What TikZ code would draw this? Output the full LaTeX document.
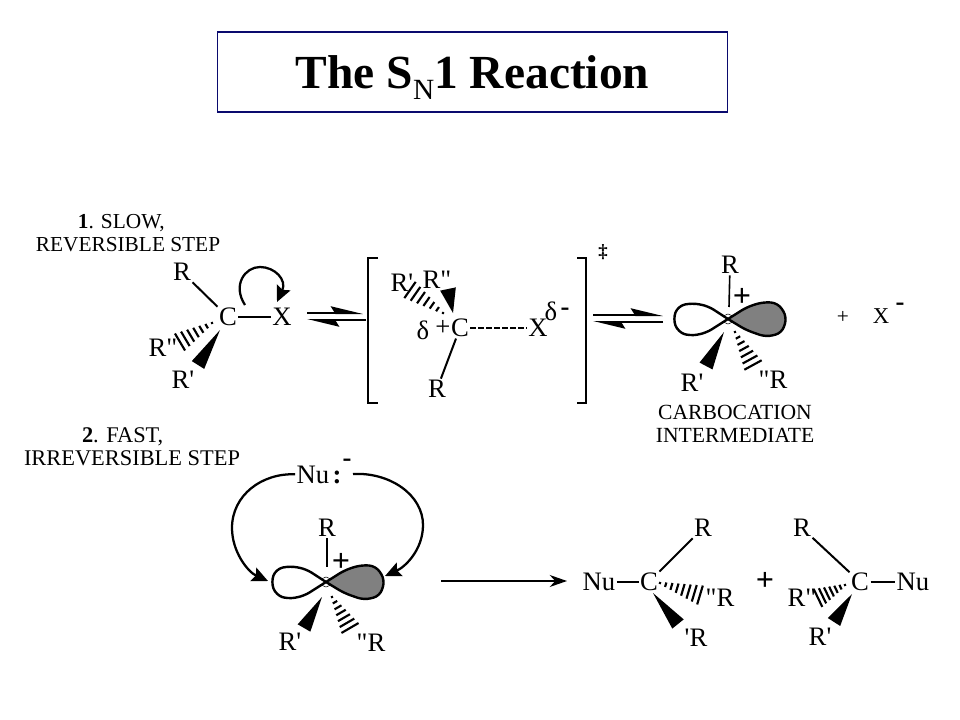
\documentclass[tikz,border=0pt]{standalone}
\usepackage{fontspec}
\setmainfont{Liberation Serif}[Ligatures=TeXOff]
\usetikzlibrary{calc,arrows.meta}
\definecolor{boxblue}{RGB}{10,10,110}
\tikzset{
  atom/.style={font=\fontsize{20}{24}\selectfont,inner sep=1pt},
  steplabel/.style={font=\fontsize{16.2}{17.5}\selectfont,align=center,inner sep=0pt},
  charge/.style={font=\fontsize{20}{24}\selectfont\bfseries,inner sep=0pt},
  bigplus/.style={font=\fontsize{24}{24}\selectfont\bfseries,inner sep=0pt},
  bond/.style={line width=1.5pt},
  bracket/.style={line width=1.6pt},
  halfarrow/.style={line width=1.5pt,-{Stealth[harpoon,length=21pt,width=10pt,inset=3pt]}},
  flowarrow/.style={line width=1.7pt,-{Stealth[length=12pt,width=11pt,inset=2pt]}}
}
\newcommand{\wedgebond}[3]{\fill (#1) -- ($(#2)!#3!90:(#1)$) -- ($(#2)!#3!-90:(#1)$) -- cycle;}
\newcommand{\hashbond}[3]{
  \coordinate (hashfar) at ($(#1)!1.5!(#2)$);
  \foreach \t [evaluate=\t as \f using \t/#3, evaluate=\t as \w using 0.8+\t*6.6/#3] in {0,...,#3}{
    \coordinate (hashmid) at ($(#1)!\f!(#2)$);
    \draw[line width=1.6pt] ($(hashmid)!\w pt!90:(hashfar)$) -- ($(hashmid)!\w pt!-90:(hashfar)$);
  }
}
\newcommand{\orbital}[1]{
  \begin{scope}[shift={(#1)}]
    \draw[line width=0.4pt] (0,0) circle (5);
    \draw[line width=1.8pt,rounded corners=5pt,fill=white] (0,0) -- (-20,-13) -- (-36,-16) -- (-50,-13) -- (-55,0) -- (-50,13) -- (-38,17) -- (-22,14) -- (0,0);
    \draw[line width=1.8pt,rounded corners=5pt,fill=black!50] (0,0) -- (19,-12) -- (35,-17) -- (50,-16) -- (59,-2) -- (54,14) -- (38,18) -- (18,11) -- (0,0);
  \end{scope}
}
\begin{document}
\begin{tikzpicture}[x=0.75pt,y=-0.75pt]
\useasboundingbox (0,0) rectangle (960,720);
\node[draw=boxblue,line width=0.9pt,minimum width=382pt,minimum height=60pt,inner sep=0pt](titlebox)at(472.5,72){};
\node[anchor=base,inner sep=0pt,font=\fontsize{35.6}{40}\selectfont\bfseries](title)at(472.5,89){The S\raisebox{-8pt}{\fontsize{22}{24}\selectfont\mdseries N}1 Reaction};
\node[steplabel,font=\fontsize{16}{17.5}\selectfont](step1)at(128,233){\textbf{1}. SLOW,\hspace*{10pt}\\REVERSIBLE STEP};
\node[steplabel,font=\fontsize{16.8}{17.5}\selectfont](step2)at(132,447){\textbf{2}. FAST,\hspace*{14pt}\\IRREVERSIBLE STEP};
% substrate
\node[atom](c1)at(228,317){C};
\node[atom](x1)at(282,317){X};
\node[atom](r1)at(182,272){R};
\node[atom](r1a)at(163,348){R"};
\node[atom](r1b)at(183,380){R'};
\draw[bond](r1)--(c1);
\draw[bond](c1)--(x1);
\coordinate(w1a)at(220,330);
\coordinate(w1b)at(198,365);
\wedgebond{w1a}{w1b}{5.5pt}
\coordinate(h1a)at(212,323);
\coordinate(h1b)at(180,342);
\hashbond{h1a}{h1b}{6}
\coordinate(ca)at(245,305);
\coordinate(cb)at(277,302);
\draw[flowarrow](ca) .. controls (232,285) and (245,267) .. (260,267) .. controls (275,267) and (287,280) .. (cb);
\coordinate(e1a)at(307,313);
\coordinate(e1b)at(363,313);
\coordinate(e1c)at(366,320);
\coordinate(e1d)at(307,320);
\draw[halfarrow](e1a)--(e1b);
\draw[halfarrow](e1c)--(e1d);
% transition state
\coordinate(lb1)at(378,258);
\coordinate(lb2)at(368,258);
\coordinate(lb3)at(368,403);
\coordinate(lb4)at(378,403);
\draw[bracket](lb1)--(lb2)--(lb3)--(lb4);
\coordinate(rb1)at(577,258);
\coordinate(rb2)at(586,258);
\coordinate(rb3)at(586,403);
\coordinate(rb4)at(577,403);
\draw[bracket](rb1)--(rb2)--(rb3)--(rb4);
\node[charge,font=\fontsize{14}{16}\selectfont\bfseries](dag)at(603,252){‡};
\node[atom](c2)at(460,328){C};
\node[atom](p2)at(443,328){+};
\node[atom](d2)at(423,330){δ};
\node[atom](x2)at(538,328){X};
\node[atom](d3)at(551,311){δ};
\node[charge](m2)at(565,312){-};
\node[atom](r2)at(437,389){R};
\node[atom](r2a)at(402,283){R'};
\node[atom](r2b)at(437,280){R"};
\draw[bond](c2)--(r2);
\draw[bond,dashed,dash pattern=on 4pt off 2pt](c2)--(x2);
\coordinate(w2a)at(453,313);
\coordinate(w2b)at(448,289);
\wedgebond{w2a}{w2b}{6pt}
\coordinate(h2a)at(443,313);
\coordinate(h2b)at(410,290);
\hashbond{h2a}{h2b}{6}
\coordinate(e2a)at(593,315);
\coordinate(e2b)at(663,315);
\coordinate(e2c)at(663,322);
\coordinate(e2d)at(593,322);
\draw[halfarrow](e2a)--(e2b);
\draw[halfarrow](e2c)--(e2d);
% carbocation
\coordinate(o1)at(728,319);
\orbital{o1}
\node[atom](r3)at(730,265){R};
\coordinate(t3)at(729,307);
\draw[line width=1.2pt](r3)--(t3);
\node[bigplus](p3)at(742,297){+};
\coordinate(w3a)at(724,332);
\coordinate(w3b)at(706,366);
\wedgebond{w3a}{w3b}{5.5pt}
\coordinate(h3a)at(735,332);
\coordinate(h3b)at(753,365);
\hashbond{h3a}{h3b}{6}
\node[atom](r3a)at(692,383){R'};
\node[atom](r3b)at(773,380){"R};
\node[steplabel](lab3)at(735,424){CARBOCATION\\INTERMEDIATE};
\node[atom,font=\fontsize{16}{20}\selectfont](p4)at(843,317){+};
\node[atom,font=\fontsize{17}{20}\selectfont](x4)at(881,316){X};
\node[charge](m4)at(900,307){-};
% second step
\node[atom](nu5)at(313,475){Nu};
\node[charge](co5)at(337,477){:};
\node[charge](m5)at(347,463){-};
\coordinate(o2)at(326,582);
\orbital{o2}
\coordinate(a5)at(268,581);
\coordinate(b5a)at(353,474);
\coordinate(b5)at(385,576);
\draw[flowarrow](nu5) .. controls (262,473) and (232,495) .. (232,528) .. controls (232,552) and (248,572) .. (a5);
\draw[flowarrow](b5a) .. controls (390,472) and (423,495) .. (423,525) .. controls (423,550) and (405,567) .. (b5);
\node[atom](r5)at(327,528){R};
\coordinate(t5)at(327,567);
\draw[line width=1.2pt](r5)--(t5);
\node[bigplus](p5)at(341,562){+};
\coordinate(w5a)at(322,597);
\coordinate(w5b)at(304,628);
\wedgebond{w5a}{w5b}{5.5pt}
\coordinate(h5a)at(332,597);
\coordinate(h5b)at(350,628);
\hashbond{h5a}{h5b}{6}
\node[atom](r5a)at(290,642){R'};
\node[atom](r5b)at(371,643){"R};
\coordinate(l6a)at(441,581);
\coordinate(l6b)at(567,581);
\node[atom](nu6)at(599,582){Nu};
\draw[line width=1.3pt,-{Stealth[length=13pt,width=9pt]}](l6a)--(l6b);
% products
\node[atom](c7)at(649,582){C};
\node[atom](r7)at(703,528){R};
\node[atom](r7b)at(720,598){"R};
\node[atom](r7a)at(696,638){'R};
\draw[bond](nu6)--(c7);
\draw[bond](c7)--(r7);
\coordinate(h7a)at(660,583);
\coordinate(h7b)at(700,595);
\hashbond{h7a}{h7b}{7}
\coordinate(w7a)at(653,593);
\coordinate(w7b)at(678,624);
\wedgebond{w7a}{w7b}{5.5pt}
\node[bigplus](p7)at(765,581){+};
\node[atom](c8)at(860,582){C};
\node[atom](r8)at(802,528){R};
\node[atom](nu8)at(913,582){Nu};
\node[atom](r8b)at(802,598){R"};
\node[atom](r8a)at(820,637){R'};
\draw[bond](r8)--(c8);
\draw[bond](c8)--(nu8);
\coordinate(h8a)at(845,585);
\coordinate(h8b)at(818,598);
\hashbond{h8a}{h8b}{6}
\coordinate(w8a)at(852,594);
\coordinate(w8b)at(834,622);
\wedgebond{w8a}{w8b}{5.5pt}
\end{tikzpicture}
\end{document}
